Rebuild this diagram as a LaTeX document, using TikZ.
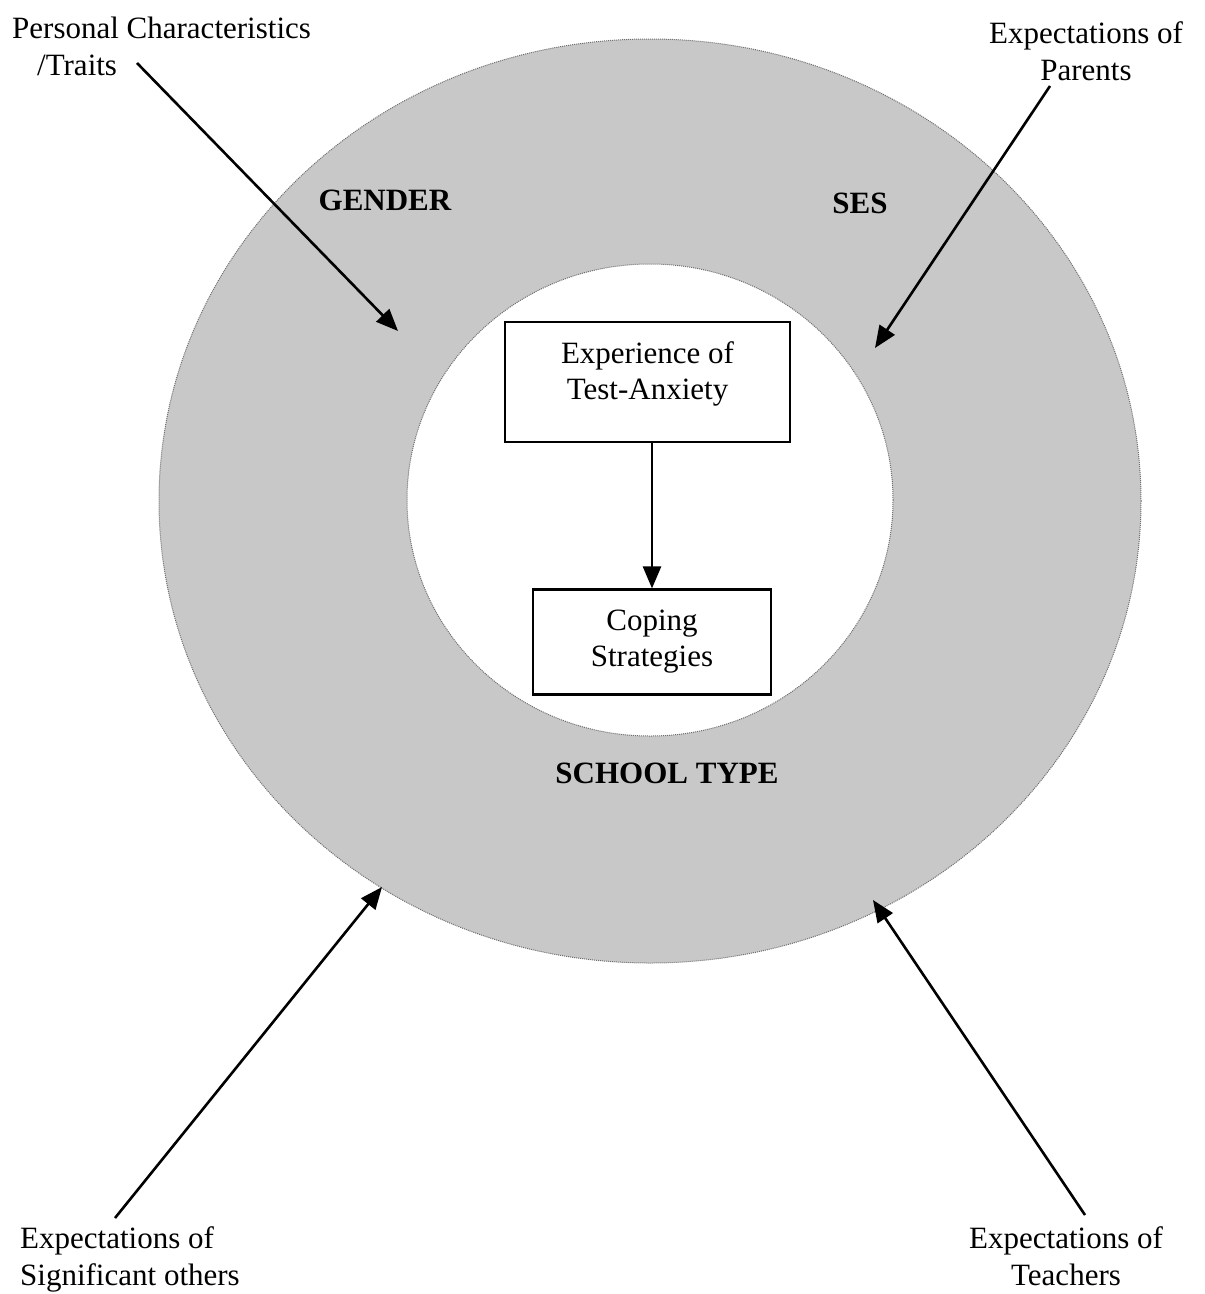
\documentclass[tikz,border=0pt]{standalone}
\usepackage{fontspec}
\setmainfont{Liberation Serif}
\usetikzlibrary{arrows.meta}
\definecolor{ringgray}{RGB}{200, 200, 200}
\definecolor{ringedge}{RGB}{110, 110, 110}

\begin{document}
\begin{tikzpicture}[
  x=1pt, y=-1pt,
  lbl/.style={inner sep=0pt, font=\fontsize{31}{37}\selectfont},
  factor/.style={inner sep=0pt, font=\fontsize{31}{37}\selectfont\bfseries},
  fbox/.style={draw, line width=2.2pt, align=center, inner sep=0pt, font=\fontsize{31}{36}\selectfont},
  infl/.style={line width=2.6pt, -{Triangle[length=22pt, width=18pt]}}
]
  \useasboundingbox (0,0) rectangle (1205,1294);

  % ring of background factors
  \fill[ringgray, even odd rule] (650,501) ellipse [x radius=491pt, y radius=462pt]
                                 (650,500) ellipse [x radius=243pt, y radius=236pt];
  \draw[ringedge, line width=1pt, densely dotted] (650,501) ellipse [x radius=491pt, y radius=462pt];
  \draw[ringedge, line width=1pt, densely dotted] (650,500) ellipse [x radius=243pt, y radius=236pt];

  \node[factor] (gender) at (385,200) {GENDER};
  \node[factor] (ses) at (860,203) {SES};
  \node[factor] (school) at (667,773) {SCHOOL TYPE};

  % core process
  \node[fbox, minimum width=285pt, minimum height=120pt] (exper) at (647.5,382) {Experience of\\Test-Anxiety\\[-14pt]};
  \node[fbox, minimum width=238pt, minimum height=105pt] (coping) at (652,642) {Coping\\Strategies};
  \draw[infl] (exper.south -| coping.north) -- (coping.north);

  % outside influences
  \node[lbl, align=left, anchor=north west] (traits) at (12,17) {Personal Characteristics\\\hspace*{25pt}/Traits};
  \node[lbl, align=center, anchor=north] (parents) at (1086,21) {Expectations of\\Parents};
  \node[lbl, align=left, anchor=north west] (others) at (20,1226) {Expectations of\\Significant others};
  \node[lbl, align=center, anchor=north] (teachers) at (1066,1226) {Expectations of\\Teachers};

  \coordinate (traitsA) at (137,63);
  \coordinate (traitsB) at (398,331);
  \coordinate (parentsA) at (1050,86);
  \coordinate (parentsB) at (875,348);
  \coordinate (othersA) at (115,1218);
  \coordinate (othersB) at (382,887);
  \coordinate (teachersA) at (1085,1215);
  \coordinate (teachersB) at (873,900);

  \draw[infl] (traitsA) -- (traitsB);
  \draw[infl] (parentsA) -- (parentsB);
  \draw[infl] (othersA) -- (othersB);
  \draw[infl] (teachersA) -- (teachersB);
\end{tikzpicture}
\end{document}
